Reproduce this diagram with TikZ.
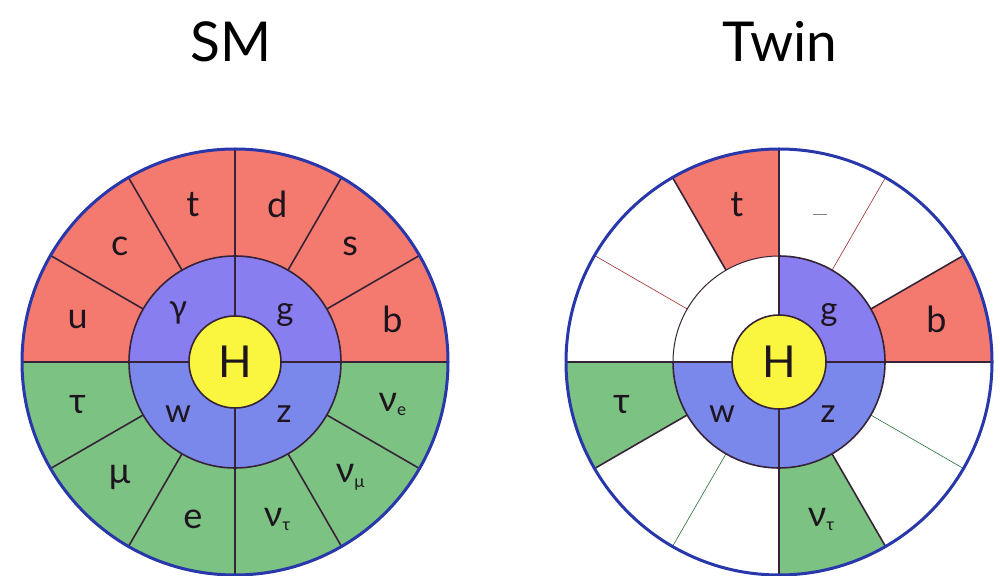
\documentclass[tikz,border=0pt]{standalone}
\usepackage{fontspec}
\setmainfont{Lato}
\usetikzlibrary{calc}

\definecolor{quark}{RGB}{244,122,112}
\definecolor{lepton}{RGB}{124,194,130}
\definecolor{bosonup}{RGB}{136,126,240}
\definecolor{bosondown}{RGB}{122,136,236}
\definecolor{higgs}{RGB}{250,245,62}
\definecolor{rim}{RGB}{40,55,170}
\definecolor{edge}{RGB}{55,35,55}
\definecolor{thinred}{RGB}{160,45,45}
\definecolor{thingreen}{RGB}{40,115,55}
\definecolor{ink}{RGB}{30,20,30}

\tikzset{
  title/.style={font=\fontsize{55}{60}\selectfont, anchor=base, inner sep=0pt},
  fermion/.style={font=\fontsize{36}{40}\selectfont, text=ink, inner sep=0pt},
  boson/.style={font=\fontsize{33}{36}\selectfont, text=ink, inner sep=0pt},
  higgslabel/.style={font=\fontsize{44}{48}\selectfont, text=ink, inner sep=0pt},
  divider/.style={draw=edge, line width=1.6pt},
  faintred/.style={draw=thinred, line width=0.6pt},
  faintgreen/.style={draw=thingreen, line width=0.6pt},
  rimline/.style={draw=rim, line width=3pt},
  ringline/.style={draw=edge, line width=1.6pt},
}
\newcommand\nusub[1]{ν\raisebox{-0.12em}{\fontsize{17}{17}\selectfont #1}}

\begin{document}
\begin{tikzpicture}[x=1pt,y=1pt]
\useasboundingbox (0,0) rectangle (1000,575);

\coordinate (S) at (235,213);
\coordinate (T) at (779,213);

% ---------- titles ----------
\node[title] (smtitle) at (231,513) {SM};
\node[title] (twintitle) at (780,513) {Twin};

% ---------- SM wheel ----------
\fill[quark] ($(S)+(0:213)$) arc[start angle=0,end angle=180,radius=213] -- cycle;
\fill[lepton] ($(S)+(180:213)$) arc[start angle=180,end angle=360,radius=213] -- cycle;
\foreach \a in {30,60,120,150,210,240,300,330}
  \draw[divider] ($(S)+(\a:106)$) -- ($(S)+(\a:213)$);
\fill[bosonup] ($(S)+(0:106)$) arc[start angle=0,end angle=180,radius=106] -- cycle;
\fill[bosondown] ($(S)+(180:106)$) arc[start angle=180,end angle=360,radius=106] -- cycle;
\draw[divider] ($(S)+(180:213)$) -- ($(S)+(0:213)$);
\draw[divider] ($(S)+(90:213)$) -- ($(S)+(270:213)$);
\draw[ringline] (S) circle[radius=106];
\filldraw[fill=higgs, draw=edge, line width=1.6pt] (S) circle[radius=46];
\draw[rimline] (S) circle[radius=213];

\node[fermion] (smu) at ($(S)+(165:163)$) {u};
\node[fermion] (smc) at ($(S)+(135:163)$) {c};
\node[fermion] (smt) at ($(S)+(105:163)$) {t};
\node[fermion] (smd) at ($(S)+(75:163)$) {d};
\node[fermion] (sms) at ($(S)+(45:163)$) {s};
\node[fermion] (smb) at ($(S)+(15:163)$) {b};
\node[fermion] (smtau) at ($(S)+(195:163)$) {τ};
\node[fermion] (smmu) at ($(S)+(225:163)$) {μ};
\node[fermion] (sme) at ($(S)+(255:163)$) {e};
\node[fermion] (smnutau) at ($(S)+(285:163)$) {\nusub{τ}};
\node[fermion] (smnumu) at ($(S)+(315:163)$) {\nusub{μ}};
\node[fermion] (smnue) at ($(S)+(345:163)$) {\nusub{e}};
\node[boson] (smgamma) at ($(S)+(-57,49)$) {γ};
\node[boson] (smg) at ($(S)+(50,47)$) {g};
\node[boson] (smw) at ($(S)+(-57,-52)$) {w};
\node[boson] (smz) at ($(S)+(49,-52)$) {z};
\node[higgslabel] (smh) at (S) {H};

% ---------- Twin wheel ----------
\fill[white] (T) circle[radius=213];
\foreach \a/\c in {90/quark,0/quark,180/lepton,270/lepton}
  \fill[\c] ($(T)+(\a:106)$) arc[start angle=\a,delta angle=30,radius=106]
    -- ($(T)+(\a+30:213)$) arc[start angle=\a+30,delta angle=-30,radius=213] -- cycle;
\draw[faintred] ($(T)+(150:106)$) -- ($(T)+(150:213)$);
\draw[faintred] ($(T)+(60:106)$) -- ($(T)+(60:213)$);
\draw[faintgreen] ($(T)+(240:106)$) -- ($(T)+(240:213)$);
\draw[faintgreen] ($(T)+(330:106)$) -- ($(T)+(330:213)$);
\foreach \a in {30,120,210,300}
  \draw[divider] ($(T)+(\a:106)$) -- ($(T)+(\a:213)$);
\fill[bosonup] (T) -- ($(T)+(0:106)$) arc[start angle=0,end angle=90,radius=106] -- cycle;
\fill[bosondown] ($(T)+(180:106)$) arc[start angle=180,end angle=360,radius=106] -- cycle;
\draw[divider] ($(T)+(180:213)$) -- ($(T)+(0:213)$);
\draw[divider] ($(T)+(90:213)$) -- ($(T)+(270:213)$);
\draw[ringline] ($(T)+(180:106)$) arc[start angle=180,end angle=450,radius=106];
\draw[draw=edge, line width=1pt] ($(T)+(90:106)$) arc[start angle=90,end angle=180,radius=106];
\filldraw[fill=higgs, draw=edge, line width=1.6pt] (T) circle[radius=47];
\draw[rimline] (T) circle[radius=213];
\draw[draw=gray, line width=0.7pt] ($(T)+(34,148)$) -- ($(T)+(48,148)$);

\node[fermion] (twt) at ($(T)+(105:163)$) {t};
\node[fermion] (twb) at ($(T)+(15:163)$) {b};
\node[fermion] (twtau) at ($(T)+(195:163)$) {τ};
\node[fermion] (twnutau) at ($(T)+(285:163)$) {\nusub{τ}};
\node[boson] (twg) at ($(T)+(50,47)$) {g};
\node[boson] (tww) at ($(T)+(-57,-52)$) {w};
\node[boson] (twz) at ($(T)+(49,-52)$) {z};
\node[higgslabel] (twh) at (T) {H};
\end{tikzpicture}
\end{document}
